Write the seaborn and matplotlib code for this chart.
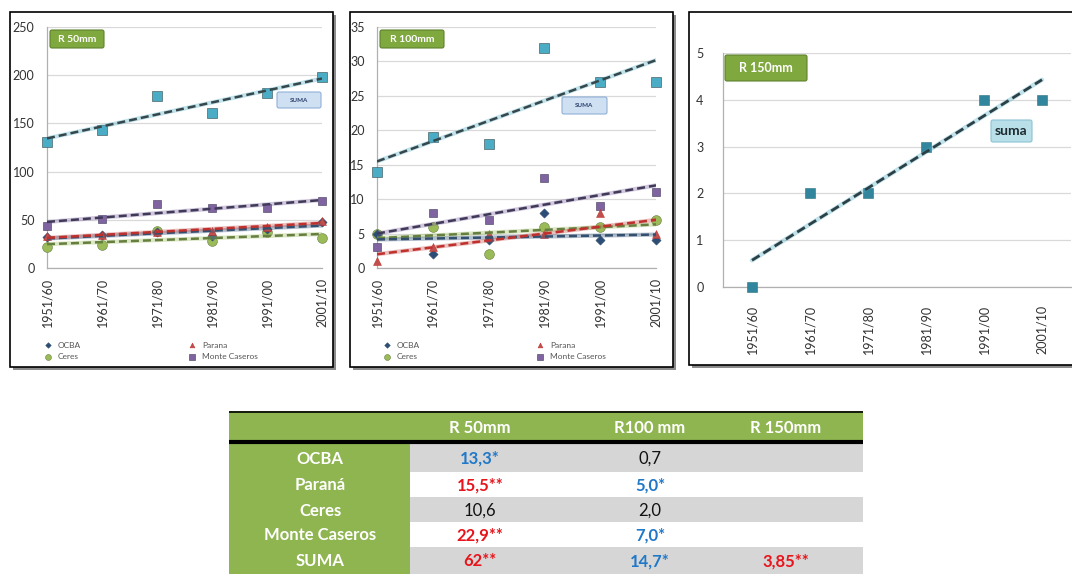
"""Tendencias de lluvias intensas (R 50/100/150 mm) por decada y tabla de pendientes."""

import matplotlib
matplotlib.use('Agg')
import numpy as np
import matplotlib.pyplot as plt
from matplotlib.patches import Rectangle, FancyBboxPatch
from matplotlib.transforms import Affine2D
import seaborn as sns


PERIODS = ['1951/60', '1961/70', '1971/80', '1981/90', '1991/00', '2001/10']

# R 50mm - number of events per decade
R50_OCBA = [32, 34, 37, 33, 40, 48]
R50_PARANA = [33, 34, 37, 38, 43, 49]
R50_CERES = [22, 24, 38, 28, 37, 31]
R50_MONTE = [44, 51, 66, 62, 62, 70]
R50_SUMA = [131, 143, 178, 161, 182, 198]

# R 100mm
R100_OCBA = [5, 2, 4, 8, 4, 4]
R100_PARANA = [1, 3, 5, 5, 8, 5]
R100_CERES = [5, 6, 2, 6, 6, 7]
R100_MONTE = [3, 8, 7, 13, 9, 11]
R100_SUMA = [14, 19, 18, 32, 27, 27]

# R 150mm
R150_SUMA = [0, 2, 2, 3, 4, 4]

# trend table
TABLE_COLS = ['R 50mm', 'R100 mm', 'R 150mm']
TABLE_ROWS = ['OCBA', 'Paraná', 'Ceres', 'Monte Caseros', 'SUMA']
TREND_R50 = ['13,3*', '15,5**', '10,6', '22,9**', '62**']
TREND_R100 = ['0,7', '5,0*', '2,0', '7,0*', '14,7*']
TREND_R150 = ['', '', '', '', '3,85**']

W, H = 1072, 574

# name: (legend label, marker, marker colour, size, line colour)
STYLE = {
    'SUMA':  (None, 's', '#4BACC6', 58, '#36474c'),
    'MONTE': ('Monte Caseros', 's', '#8064A2', 40, '#3f3a58'),
    'PARANA': ('Parana', '^', '#C0504D', 32, '#c0302c'),
    'OCBA':  ('OCBA', 'D', '#2C4D75', 22, '#34506f'),
    'CERES': ('Ceres', 'o', '#9BBB59', 50, '#667f40'),
}


def box(x0, y0, x1, y1):
    """Pixel box (top-left origin) -> figure fraction rect."""
    return [x0 / W, 1 - y1 / H, (x1 - x0) / W, (y1 - y0) / H]


def style_axis(ax, ymax, ystep):
    ax.set_ylim(0, ymax)
    ax.set_yticks(np.arange(0, ymax + 0.1, ystep))
    ax.yaxis.grid(True, color='#d9d9d9', lw=0.9)
    ax.xaxis.grid(False)
    for s in ['top', 'right']:
        ax.spines[s].set_visible(False)
    for s in ['left', 'bottom']:
        ax.spines[s].set_color('#b0b0b0')
        ax.spines[s].set_linewidth(0.9)
    ax.tick_params(axis='y', length=0, pad=9, labelsize=9, labelcolor='#333333')
    ax.tick_params(axis='x', labelsize=9, labelcolor='#333333')
    ax.set_xlabel('')
    ax.set_ylabel('')


def draw_series(ax, x, y, key, with_label=True):
    label, marker, color, size, lcolor = STYLE[key]
    sns.scatterplot(x=x, y=y, ax=ax, marker=marker, color=color, s=size,
                    edgecolor=lcolor, linewidth=0.4, clip_on=False, zorder=3,
                    label=label if with_label else None, legend=False)
    # coloured halo + dark dashed trend, like the Excel trendline
    sns.regplot(x=x, y=y, ax=ax, scatter=False, ci=None, color=color,
                line_kws=dict(lw=3.0, alpha=0.35, zorder=4))
    sns.regplot(x=x, y=y, ax=ax, scatter=False, ci=None, color=lcolor,
                line_kws=dict(lw=1.8, ls=(0, (3.2, 1.6)), zorder=5))


def station_panel(ax, data, ymax, ystep, leg_x, leg_gap):
    x = np.arange(len(PERIODS))
    for key in ['SUMA', 'MONTE', 'CERES', 'OCBA', 'PARANA']:
        draw_series(ax, x, data[key], key, with_label=(key != 'SUMA'))
    style_axis(ax, ymax, ystep)
    ax.set_xlim(0, len(PERIODS) - 1)
    ax.set_xticks(x)
    ax.set_xticklabels(PERIODS, rotation=90)
    ax.tick_params(axis='x', length=4, color='#b0b0b0', pad=3)

    handles, labels = ax.get_legend_handles_labels()
    order = ['OCBA', 'Ceres', 'Parana', 'Monte Caseros']
    hl = dict(zip(labels, handles))
    ax.legend([hl[k] for k in order], order, ncol=2, frameon=False,
              loc='upper left', bbox_to_anchor=(leg_x / W, 0.418),
              bbox_transform=ax.figure.transFigure, fontsize=6,
              handletextpad=0.6, columnspacing=leg_gap, labelspacing=0.55,
              markerscale=0.6, handlelength=1.2, labelcolor='#555555')


sns.set_style('white')
plt.rcParams['font.family'] = ['Lato', 'DejaVu Sans']

fig = plt.figure(figsize=(W / 100, H / 100), dpi=100)
px = Affine2D().scale(1 / W, -1 / H).translate(0, 1) + fig.transFigure

# panel frames with drop shadow
for x0, y0, x1, y1 in [(10, 12, 333, 367), (350, 12, 673, 367), (689, 12, 1075, 365)]:
    fig.add_artist(Rectangle((x0 + 3, y0 + 3), x1 - x0, y1 - y0, transform=px,
                             fc='#8c8c8c', ec='none', zorder=-2))
    fig.add_artist(Rectangle((x0, y0), x1 - x0, y1 - y0, transform=px,
                             fc='white', ec='black', lw=1.2, zorder=-1))

ax1 = fig.add_axes(box(47, 27, 322, 268))
station_panel(ax1, {'SUMA': R50_SUMA, 'MONTE': R50_MONTE, 'PARANA': R50_PARANA,
                    'OCBA': R50_OCBA, 'CERES': R50_CERES}, 250, 50, 35, 12.8)

ax2 = fig.add_axes(box(377, 27, 656, 268))
station_panel(ax2, {'SUMA': R100_SUMA, 'MONTE': R100_MONTE, 'PARANA': R100_PARANA,
                    'OCBA': R100_OCBA, 'CERES': R100_CERES}, 35, 5, 374, 13.9)

ax3 = fig.add_axes(box(723, 53, 1071, 287))
x3 = np.arange(len(PERIODS))
sns.scatterplot(x=x3, y=R150_SUMA, ax=ax3, marker='s', color='#31859C', s=60,
                edgecolor='#2a6f80', linewidth=0.4, clip_on=False, zorder=3, legend=False)
sns.regplot(x=x3, y=R150_SUMA, ax=ax3, scatter=False, ci=None, color='#4BACC6',
            line_kws=dict(lw=3.2, alpha=0.35, zorder=4))
sns.regplot(x=x3, y=R150_SUMA, ax=ax3, scatter=False, ci=None, color='#2b3f45',
            line_kws=dict(lw=2.0, ls=(0, (3.2, 1.6)), zorder=5))
style_axis(ax3, 5, 1)
ax3.set_xlim(-0.5, len(PERIODS) - 0.5)
ax3.set_xticks(x3)
ax3.set_xticklabels(PERIODS, rotation=90)
ax3.set_xticks(np.arange(-0.5, len(PERIODS)), minor=True)
ax3.tick_params(axis='x', which='major', length=0, pad=13)
ax3.tick_params(axis='x', which='minor', length=5, color='#b0b0b0')
ax3.tick_params(axis='y', pad=14)

# label boxes
def label_box(x0, y0, x1, y1, text, fc, ec, tc, size, weight='bold'):
    fig.add_artist(FancyBboxPatch((x0, y0), x1 - x0, y1 - y0, transform=px,
                                  boxstyle='round,pad=0,rounding_size=2',
                                  fc=fc, ec=ec, lw=0.8, zorder=10))
    fig.text((x0 + x1) / 2, (y0 + y1) / 2, text, transform=px, ha='center', va='center',
             color=tc, fontsize=size, fontweight=weight, zorder=11)


label_box(50, 30, 104, 48, 'R 50mm', '#7FA83E', '#5f8230', 'white', 7.5)
label_box(277, 92, 321, 108, 'SUMA', '#cfe0f3', '#8fb0d8', '#2a3f6a', 4.5)
label_box(380, 30, 444, 48, 'R 100mm', '#7FA83E', '#5f8230', 'white', 7.5)
label_box(562, 97, 607, 114, 'SUMA', '#cfe0f3', '#8fb0d8', '#2a3f6a', 4.5)
label_box(725, 55, 807, 81, 'R 150mm', '#7FA83E', '#5f8230', 'white', 9)
label_box(991, 120, 1032, 142, 'suma', '#b9dfe9', '#8cc3d3', '#1d2b30', 10)

# table
axt = fig.add_axes(box(229, 411, 863, 574))
axt.set_xlim(229, 863)
axt.set_ylim(574, 411)
axt.axis('off')

green = '#8FB550'
col_centers = [320, 480, 650, 786]
row_edges = [444, 472, 497, 522, 547, 574]

axt.add_patch(Rectangle((229, 411), 634, 30, fc=green, ec='none'))
axt.plot([229, 863], [411.5, 411.5], color='black', lw=1.2)
axt.plot([229, 863], [442, 442], color='black', lw=3)
for i, c in enumerate(TABLE_COLS):
    axt.text(col_centers[i + 1], 428, c, ha='center', va='center', color='white',
             fontsize=12, fontweight='bold')

columns = [TREND_R50, TREND_R100, TREND_R150]
for r, name in enumerate(TABLE_ROWS):
    y0, y1 = row_edges[r], row_edges[r + 1]
    fc = '#d6d6d6' if r % 2 == 0 else 'white'
    axt.add_patch(Rectangle((410, y0), 453, y1 - y0, fc=fc, ec='none'))
    axt.add_patch(Rectangle((229, y0), 181, y1 - y0, fc=green, ec='none'))
    yc = (y0 + y1) / 2 + 1
    axt.text(col_centers[0], yc, name, ha='center', va='center', color='white',
             fontsize=12, fontweight='bold')
    for c, vals in enumerate(columns):
        v = vals[r]
        if not v:
            continue
        if v.endswith('**'):
            color, weight = '#E8141B', 'bold'
        elif v.endswith('*'):
            color, weight = '#1F78C8', 'bold'
        else:
            color, weight = '#111111', 'normal'
        axt.text(col_centers[c + 1], yc, v, ha='center', va='center', color=color,
                 fontsize=12, fontweight=weight)

fig.savefig('out.png', dpi=100)
